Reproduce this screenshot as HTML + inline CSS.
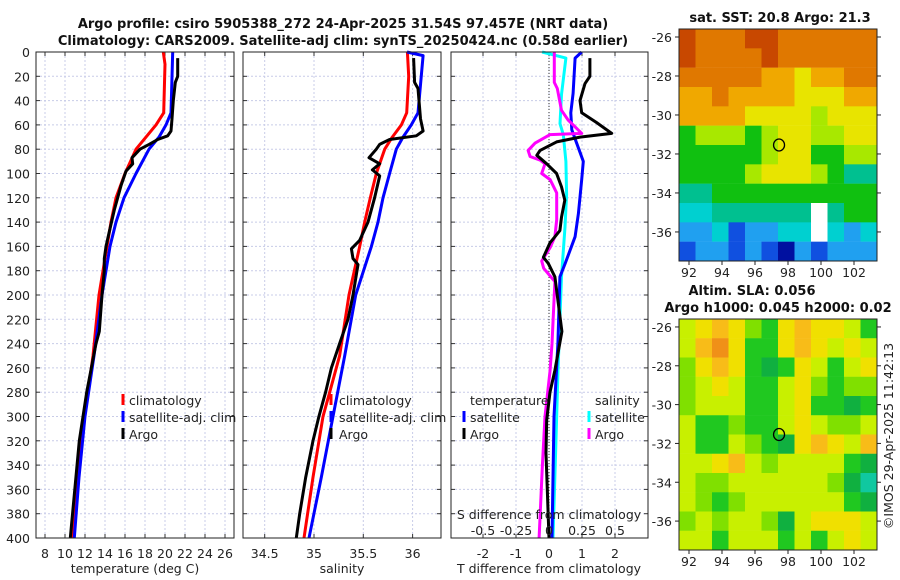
<!DOCTYPE html>
<html><head><meta charset="utf-8"><style>
html,body{margin:0;padding:0;background:#fff}
svg{display:block;font-family:"DejaVu Sans","Liberation Sans",sans-serif}
</style></head><body>
<svg id="fig" width="900" height="580" viewBox="0 0 900 580" xmlns="http://www.w3.org/2000/svg">
<text x="343" y="28" text-anchor="middle" font-size="13" font-weight="bold" fill="#111">Argo profile: csiro 5905388_272 24-Apr-2025 31.54S 97.457E (NRT data)</text>
<text x="343" y="45" text-anchor="middle" font-size="13" font-weight="bold" fill="#111">Climatology: CARS2009. Satellite-adj clim: synTS_20250424.nc (0.58d earlier)</text>
<text x="780" y="22" text-anchor="middle" font-size="13" font-weight="bold" fill="#111">sat. SST: 20.8 Argo: 21.3</text>
<text x="752" y="295" text-anchor="middle" font-size="13" font-weight="bold" fill="#111">Altim. SLA: 0.056</text>
<text x="778" y="312" text-anchor="middle" font-size="13" font-weight="bold" fill="#111">Argo h1000: 0.045 h2000: 0.02</text>
<text transform="translate(893,436) rotate(-90)" text-anchor="middle" font-size="12.5" fill="#222">©IMOS 29-Apr-2025 11:42:13</text>
<g id="layer"></g>
</svg>
<script>
// ---------- data ----------
const tClimDepth=[0,10,50,60,70,80,100,120,140,160,200,250,280,300,350,400];
const tClimVal=[19.83,20.0,19.87,19.1,18.1,17.1,16.0,15.1,14.6,14.2,13.4,12.8,12.3,11.9,11.3,10.8];
const tSatDepth=[0,50,60,70,80,100,120,140,160,200,250,300,350,400];
const tSatVal=[20.77,20.6,20.1,19.4,18.4,17.1,15.9,15.1,14.5,13.7,12.9,12.0,11.4,10.93];
const tArgoDepth=[5,20,25,40,55,65,69,72,76,80,85,87,92,98,110,130,150,160,170,180,200,230,240,280,320,400];
const tArgoVal=[21.27,21.27,21.03,20.83,20.7,20.6,20.27,19.27,18.43,17.5,16.93,16.7,16.77,16.1,15.6,14.93,14.37,14.1,13.93,13.93,13.7,13.43,13.1,12.17,11.43,10.53];
const sClimDepth=[0,20,50,60,70,80,100,120,140,160,200,250,280,300,350,400];
const sClimVal=[35.947,35.96,35.94,35.886,35.794,35.717,35.632,35.571,35.514,35.463,35.355,35.26,35.159,35.091,34.99,34.899];
const sSatDepth=[0,3,50,60,70,80,100,120,140,160,200,250,300,350,400];
const sSatVal=[35.943,36.106,36.055,35.987,35.903,35.835,35.767,35.70,35.649,35.582,35.423,35.311,35.193,35.074,34.949];
const sArgoDepth=[5,25,30,40,55,65,69,72,76,80,87,92,97,102,120,140,155,162,170,175,200,220,240,260,280,300,320,350,380,400];
const sArgoVal=[36.01,36.02,36.055,36.065,36.08,36.106,36.038,35.767,35.666,35.632,35.558,35.666,35.592,35.666,35.615,35.548,35.463,35.379,35.396,35.446,35.396,35.345,35.26,35.176,35.118,35.05,34.99,34.916,34.855,34.82];
const dTSatDepth=[0,5,34,50,64,90,105,133,152,174,185,240,300,400];
const dTSatVal=[0.99,0.79,0.73,0.66,0.69,1.04,0.99,0.89,0.79,0.49,0.33,0.27,0.15,0.09];
const dTArgoDepth=[5,20,26,40,50,58,67,70,74,81,85,92,100,111,122,136,147,157,169,174,185,230,262,280,303,330,400];
const dTArgoVal=[1.24,1.24,1.09,0.94,0.99,1.44,1.9,0.94,0.23,-0.27,-0.37,-0.07,0.23,0.38,0.48,0.38,0.33,0.03,-0.17,-0.02,0.18,0.39,0.18,0.03,-0.07,-0.09,0.0];
const dSSatDepth=[0,5,35,59,68,90,117,144,185,262,330,400];
const dSSatVal=[-0.052,0.128,0.095,0.083,0.108,0.128,0.133,0.121,0.095,0.068,0.05,0.03];
const dSArgoDepth=[0,25,30,48,56,67,68,75,81,86,89,92,100,105,116,138,152,161,172,178,189,240,262,300,340,400];
const dSArgoVal=[0.04,0.04,0.063,0.095,0.145,0.248,0.008,-0.105,-0.158,-0.143,-0.068,-0.03,-0.055,0.008,0.058,0.058,0.045,0.008,-0.055,-0.04,0.045,0.023,0.008,-0.03,-0.05,-0.075];
const depthTicks=[0,20,40,60,80,100,120,140,160,180,200,220,240,260,280,300,320,340,360,380,400];
const tTicks=[8,10,12,14,16,18,20,22,24,26];
const sTicks=[34.5,35,35.5,36];
const dTTicks=[-2,-1,0,1,2];
const dSTicks=[-0.5,-0.25,0,0.25,0.5];
const lonTicks=[92,94,96,98,100,102];
const latTicks=[-26,-28,-30,-32,-34,-36];
const sstGrid=[
[0,1,1,1,0,0,1,1,1,1,1,1],
[0,1,1,1,1,0,1,1,1,1,1,1],
[1,1,1,1,1,2,2,3,2,2,1,1],
[2,2,1,2,2,2,2,3,3,3,2,2],
[2,2,2,2,3,3,3,3,4,3,3,3],
[5,4,4,4,5,4,3,3,4,4,3,3],
[5,5,5,5,5,4,3,3,5,5,4,4],
[5,5,5,5,4,3,3,3,4,5,6,6],
[6,6,5,5,5,5,5,5,5,5,5,5],
[7,7,6,6,6,6,6,6,-1,6,5,5],
[8,8,7,9,8,8,7,7,-1,7,8,7],
[9,8,8,9,8,9,10,8,9,8,8,8]];
const slaGrid=[
[3,2,1,2,4,5,2,1,2,2,3,5],
[3,1,0,2,5,5,2,1,2,3,2,3],
[4,2,1,2,5,6,5,2,3,5,3,2],
[4,3,2,3,5,5,3,2,4,5,4,4],
[4,3,3,3,5,5,3,2,5,5,6,5],
[3,5,5,4,5,5,3,2,3,4,4,3],
[3,5,5,3,4,5,6,2,1,2,3,1],
[3,3,2,1,3,4,3,3,3,3,5,6],
[3,4,4,3,3,3,3,3,3,4,6,7],
[3,4,5,4,3,3,3,3,3,3,5,6],
[4,3,4,3,3,4,6,3,2,2,2,3],
[3,3,5,3,3,3,5,3,5,3,2,3]];
const floatLon=97.457, floatLat=-31.54;
// ---------- helpers ----------
const NS='http://www.w3.org/2000/svg';
const L=document.getElementById('layer');
const FS=12.5;
function mk(tag,at,parent){const e=document.createElementNS(NS,tag);for(const k in at)e.setAttribute(k,at[k]);(parent||L).appendChild(e);return e;}
const yD=d=>52+d*1.215;
const xT=t=>45+(t-8)*10;
const xS=s=>314+(s-35)*98.6;
const xDT=v=>549+v*33;
const xDS=v=>549+v*132;
const panels=[{x0:36,x1:234},{x0:243,x1:441},{x0:451,x1:648}];
panels.forEach((p,i)=>{
  depthTicks.forEach(d=>{
    const g=mk('line',{x1:p.x0,x2:p.x1,y1:yD(d),y2:yD(d),stroke:'#c8cce8','stroke-width':1,'stroke-dasharray':'2,2'});
    
    
    mk('line',{x1:p.x0,x2:p.x0+4,y1:yD(d),y2:yD(d),stroke:'#333'});
    mk('line',{x1:p.x1-4,x2:p.x1,y1:yD(d),y2:yD(d),stroke:'#333'});
  });
});
function vgrid(ticks,fx,p,name){ticks.forEach(t=>{
  const g=mk('line',{x1:fx(t),x2:fx(t),y1:52,y2:538,stroke:'#c8cce8','stroke-width':1,'stroke-dasharray':'2,2'});
  
  
  mk('line',{x1:fx(t),x2:fx(t),y1:52,y2:56,stroke:'#333'});
  mk('line',{x1:fx(t),x2:fx(t),y1:534,y2:538,stroke:'#333'});
});}
vgrid(tTicks,xT,panels[0],'temperature-gridline');
vgrid(sTicks,xS,panels[1],'salinity-gridline');
vgrid(dTTicks,xDT,panels[2],'tdiff-gridline');
const zl=mk('line',{x1:xDT(0),x2:xDT(0),y1:52,y2:538,stroke:'#333','stroke-width':1,'stroke-dasharray':'1,2'});


depthTicks.forEach(d=>{
  const t=mk('text',{x:30,y:yD(d)+5,'text-anchor':'end','font-size':FS,fill:'#222'});t.textContent=d;
  
  
});
function xlabels(ticks,fx,name){ticks.forEach(v=>{
  const t=mk('text',{x:fx(v),y:558,'text-anchor':'middle','font-size':FS,fill:'#222'});t.textContent=v;
  
  
});}
xlabels(tTicks,xT,'temperature-tick-label');
xlabels(sTicks,xS,'salinity-tick-label');
xlabels(dTTicks,xDT,'tdiff-tick-label');
function lbl(x,y,s,name,anchor){const t=mk('text',{x:x,y:y,'text-anchor':anchor||'middle','font-size':FS,fill:'#222'});t.textContent=s;
  
  return t;}
lbl(135,573,'temperature (deg C)','temperature-axis-title');
lbl(342,573,'salinity','salinity-axis-title');
lbl(549,573,'T difference from climatology','tdiff-axis-title');
function series(ds,vs,fx,color,name){
  const pts=ds.map((d,i)=>fx(vs[i]).toFixed(1)+','+yD(d).toFixed(1)).join(' ');
  const e=mk('polyline',{points:pts,fill:'none',stroke:color,'stroke-width':3,'stroke-linejoin':'round'});
  
  
}
series(tClimDepth,tClimVal,xT,'#ff0000','temperature-climatology-line');
series(tSatDepth,tSatVal,xT,'#0000ff','temperature-satellite-line');
series(tArgoDepth,tArgoVal,xT,'#000000','temperature-argo-line');
series(sClimDepth,sClimVal,xS,'#ff0000','salinity-climatology-line');
series(sSatDepth,sSatVal,xS,'#0000ff','salinity-satellite-line');
series(sArgoDepth,sArgoVal,xS,'#000000','salinity-argo-line');
series(dSSatDepth,dSSatVal,xDS,'#00ffff','sdiff-satellite-line');
series(dTSatDepth,dTSatVal,xDT,'#0000ff','tdiff-satellite-line');
series(dSArgoDepth,dSArgoVal,xDS,'#ff00ff','sdiff-argo-line');
series(dTArgoDepth,dTArgoVal,xDT,'#000000','tdiff-argo-line');
lbl(549,519,'S difference from climatology','sdiff-axis-title');
dSTicks.forEach(v=>{
  const t=mk('text',{x:xDS(v),y:535,'text-anchor':'middle','font-size':FS,fill:'#222'});t.textContent=v;
  
  
});
function leg(mx,tx,y,color,s,name){
  const m=mk('rect',{x:mx-1.5,y:y-11,width:3,height:11,fill:color});
  
  
  lbl(tx,y,s,name,'start');
}
leg(123,129,405,'#ff0000','climatology','legend-climatology');
leg(123,129,422,'#0000ff','satellite-adj. clim','legend-satellite');
leg(123,129,439,'#000000','Argo','legend-argo');
leg(331,339,405,'#ff0000','climatology','legend-s-climatology');
leg(331,339,422,'#0000ff','satellite-adj. clim','legend-s-satellite');
leg(331,339,439,'#000000','Argo','legend-s-argo');
lbl(470,405,'temperature','legend-temperature-heading','start');
leg(464,470,422,'#0000ff','satellite','legend-tdiff-satellite');
leg(464,470,439,'#000000','Argo','legend-tdiff-argo');
lbl(595,405,'salinity','legend-salinity-heading','start');
leg(589,595,422,'#00ffff','satellite','legend-sdiff-satellite');
leg(589,595,439,'#ff00ff','Argo','legend-sdiff-argo');
panels.forEach(p=>{
  const f=mk('rect',{x:p.x0,y:52,width:p.x1-p.x0,height:486,fill:'none',stroke:'#222','stroke-width':1});
  
  
});
const sstCol=['#c84800','#e07800','#f0a800','#e8e400','#a8e800','#10c010','#00c090','#00d0d0','#20a0f0','#1050e0','#0010a0'];
const slaCol=['#f09018','#f8bc18','#f0e000','#c8f000','#80e000','#20c820','#10b040','#10c8a0'];
function map(grid,cols,top,bot,name){
  const x0=679,x1=877,lonX=lon=>689+(lon-92)*16.5;
  const lat0=-25.59,latY=lat=>top+(lat0-lat)*(bot-top)/11.9;
  grid.forEach((row,r)=>row.forEach((v,c)=>{
    const cell=mk('rect',{x:x0+c*16.5,y:top+r*(bot-top)/12,width:16.6,height:(bot-top)/12+0.2,fill:v<0?'#ffffff':cols[v]});
    
    
  }));
  const fr=mk('rect',{x:x0,y:top,width:x1-x0,height:bot-top,fill:'none',stroke:'#222'});
  
  
  lonTicks.forEach(lon=>{
    mk('line',{x1:lonX(lon),x2:lonX(lon),y1:bot,y2:bot+4,stroke:'#222'});
    const t=mk('text',{x:lonX(lon),y:bot+16,'text-anchor':'middle','font-size':FS,fill:'#222'});t.textContent=lon;
    
    
  });
  latTicks.forEach(lat=>{
    mk('line',{x1:x0-4,x2:x0,y1:latY(lat),y2:latY(lat),stroke:'#222'});
    mk('line',{x1:x1,x2:x1+4,y1:latY(lat),y2:latY(lat),stroke:'#222'});
    const t=mk('text',{x:672,y:latY(lat)+5,'text-anchor':'end','font-size':FS,fill:'#222'});t.textContent=lat;
    
    
  });
  const c=mk('ellipse',{cx:lonX(floatLon),cy:latY(floatLat),rx:5.5,ry:6,fill:'none',stroke:'#000','stroke-width':1.3});
  
  
}
map(sstGrid,sstCol,29,261,'sst-map');
map(slaGrid,slaCol,319,550,'sla-map');
</script>
</body></html>
